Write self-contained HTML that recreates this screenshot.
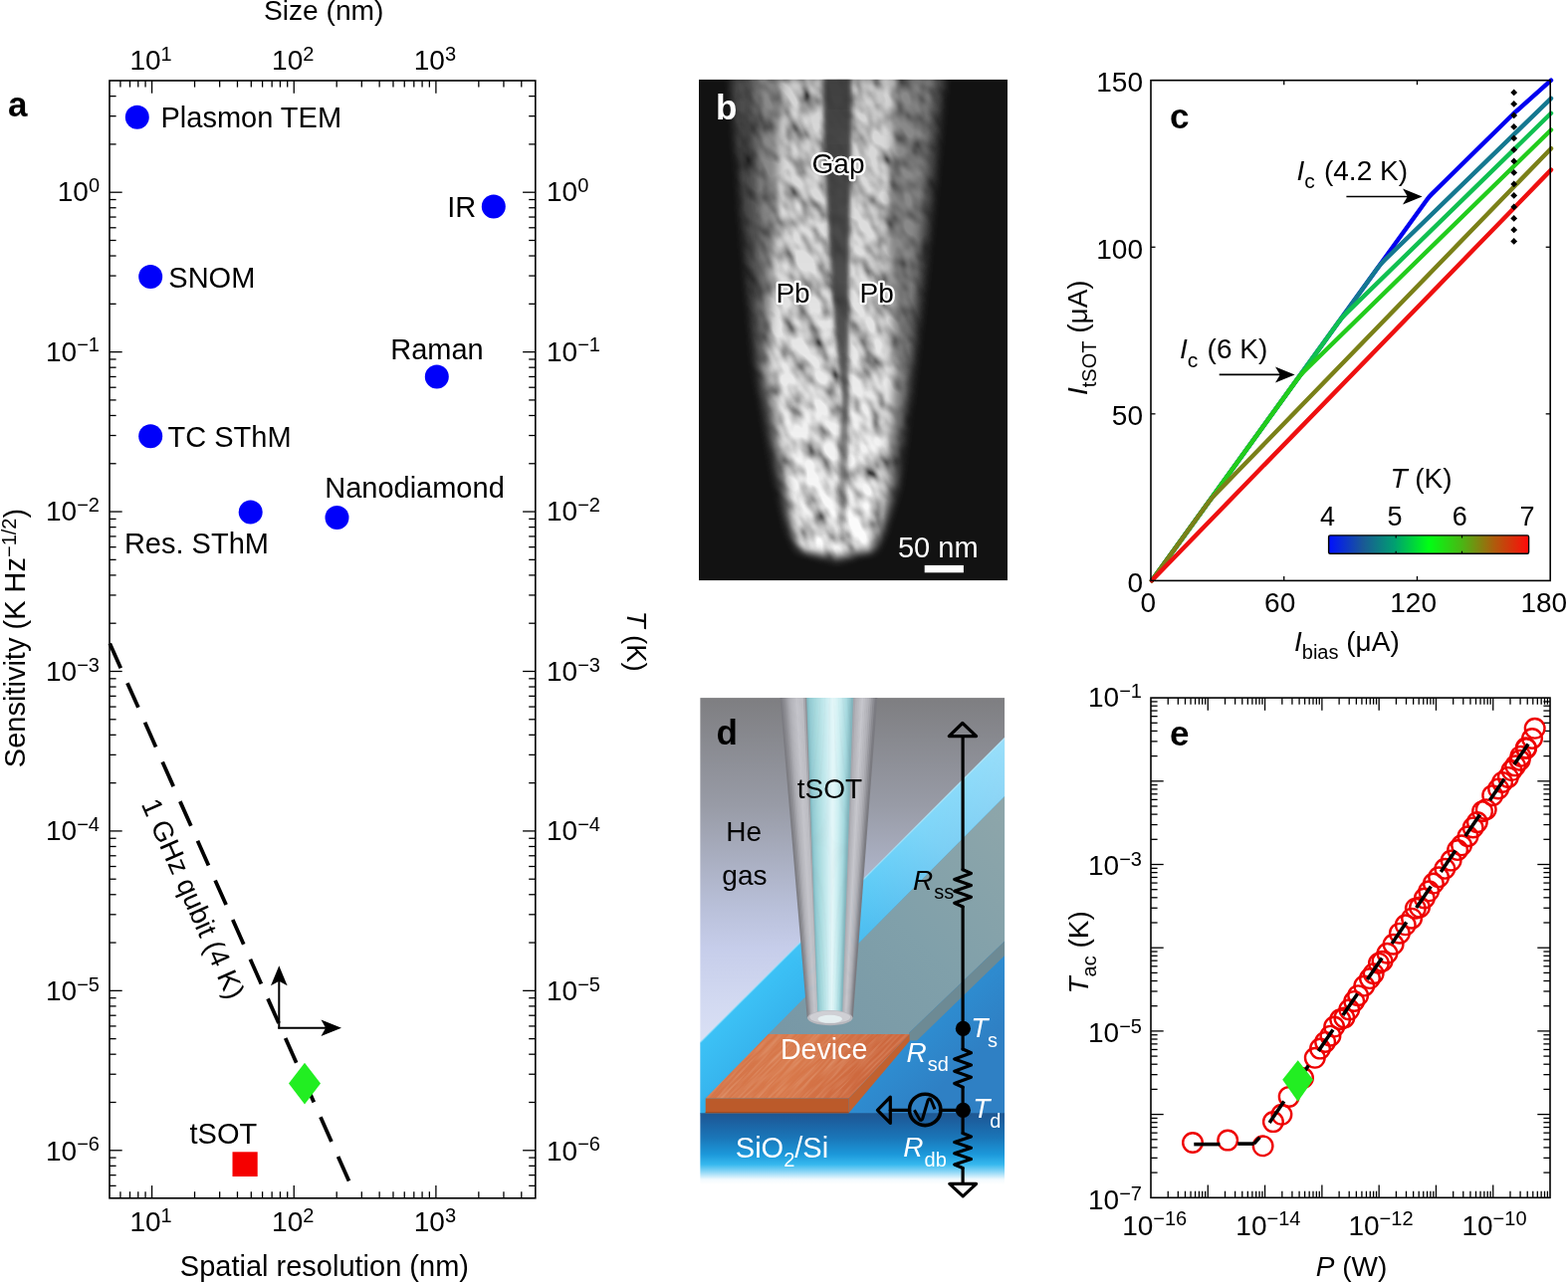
<!DOCTYPE html>
<html><head><meta charset="utf-8"><title>Figure</title>
<style>html,body{margin:0;padding:0;background:#fff;} svg{display:block;}</style></head>
<body>
<svg width="1575" height="1288" viewBox="0 0 1575 1288" font-family="'Liberation Sans', Arial, Helvetica, sans-serif">
<rect width="1575" height="1288" fill="#fff"/>
<defs>
<clipPath id="bclip"><rect x="702" y="79.8" width="310" height="503.5"/></clipPath>
<filter id="bblur5" x="-10%" y="-10%" width="120%" height="120%"><feGaussianBlur stdDeviation="4"/></filter>
<filter id="bblur2" x="-20%" y="-5%" width="140%" height="110%"><feGaussianBlur stdDeviation="2.2"/></filter>
<filter id="grain" x="557" y="-20" width="600" height="700" filterUnits="userSpaceOnUse">
 <feTurbulence type="fractalNoise" baseFrequency="0.075 0.042" numOctaves="2" seed="11" result="n"/>
 <feColorMatrix in="n" type="matrix" values="1.8 0 0 0 -0.17  1.8 0 0 0 -0.17  1.8 0 0 0 -0.17  0 0 0 0 1"/>
</filter>
<linearGradient id="bvert" gradientUnits="userSpaceOnUse" x1="0" y1="80" x2="0" y2="560"><stop offset="0" stop-color="#d0d0d0"/><stop offset="0.5" stop-color="#e2e2e2"/><stop offset="1" stop-color="#ffffff"/></linearGradient>
<linearGradient id="bgapg" gradientUnits="userSpaceOnUse" x1="0" y1="80" x2="0" y2="545"><stop offset="0" stop-color="#363636" stop-opacity="0.92"/><stop offset="0.55" stop-color="#363636" stop-opacity="0.85"/><stop offset="0.8" stop-color="#363636" stop-opacity="0.6"/><stop offset="1" stop-color="#363636" stop-opacity="0.3"/></linearGradient>
<mask id="bmask" maskUnits="userSpaceOnUse" x="702" y="79" width="310" height="505">
 <g filter="url(#bblur5)">
  <polygon points="734.0,76.0 747.0,240.0 759.0,370.0 781.0,490.0 792.0,535.0 800.0,552.0 840.0,564.0 880.0,552.0 888.0,535.0 902.0,490.0 918.0,370.0 933.0,240.0 949.0,76.0" fill="#404040"/>
  <polygon points="758.0,76.0 764.0,240.0 765.0,370.0 787.0,490.0 796.0,535.0 803.0,552.0 840.0,560.0 877.0,552.0 885.0,535.0 897.0,490.0 910.0,370.0 922.0,240.0 936.0,76.0" fill="#808080"/>
  <polygon points="786.0,76.0 780.0,240.0 772.0,370.0 793.0,490.0 800.0,535.0 806.0,552.0 840.0,556.0 874.0,552.0 880.0,535.0 888.0,490.0 897.0,370.0 890.0,240.0 900.0,76.0" fill="url(#bvert)"/>
 </g>
</mask>
</defs>
<g clip-path="url(#bclip)">
<rect x="702" y="79.8" width="310" height="503.5" fill="#121212"/>
<g mask="url(#bmask)"><g transform="rotate(-28 857 330)"><rect x="557" y="-20" width="600" height="700" filter="url(#grain)"/></g></g>
<polygon points="827.0,76.0 828.0,160.0 833.0,240.0 838.5,330.0 846.0,400.0 843.0,450.0 843.0,500.0 845.0,540.0 847.0,540.0 850.0,500.0 852.0,450.0 852.0,400.0 852.5,330.0 853.0,240.0 855.0,160.0 855.0,76.0" fill="url(#bgapg)" filter="url(#bblur2)"/>
</g>
<text x="719" y="119.5" font-size="35" font-weight="bold" fill="#fff">b</text>
<g font-size="28" fill="#000" stroke="#fff" stroke-width="4.5" stroke-linejoin="round" paint-order="stroke">
<text x="842" y="174.2" text-anchor="middle">Gap</text>
<text x="796.5" y="304.2" text-anchor="middle">Pb</text>
<text x="880.7" y="304.2" text-anchor="middle">Pb</text>
</g>
<text x="942.3" y="560.3" font-size="29" fill="#fff" text-anchor="middle">50 nm</text>
<rect x="928.7" y="567.9" width="39.2" height="7.4" fill="#fff"/>

<defs>
<clipPath id="dclip"><rect x="703.2" y="701.1" width="306" height="495"/></clipPath>
<linearGradient id="dbg" gradientUnits="userSpaceOnUse" x1="0" y1="701" x2="0" y2="1060">
<stop offset="0" stop-color="#7e7e81"/><stop offset="0.3" stop-color="#989ba6"/><stop offset="0.58" stop-color="#b8bfd8"/><stop offset="0.7" stop-color="#c6cdea"/><stop offset="0.85" stop-color="#d2d9f1"/><stop offset="1" stop-color="#dde3f6"/></linearGradient>
<linearGradient id="dsub" gradientUnits="userSpaceOnUse" x1="856" y1="894" x2="1000" y2="1038">
<stop offset="0" stop-color="#36c0f6"/><stop offset="0.25" stop-color="#30b0ec"/><stop offset="0.5" stop-color="#2c9edf"/><stop offset="0.75" stop-color="#2e8cd0"/><stop offset="1" stop-color="#2f80c4"/></linearGradient>
<linearGradient id="dsub2" gradientUnits="userSpaceOnUse" x1="1009" y1="741" x2="790" y2="960">
<stop offset="0" stop-color="#ffffff" stop-opacity="0.5"/><stop offset="0.4" stop-color="#ffffff" stop-opacity="0.36"/><stop offset="0.75" stop-color="#ffffff" stop-opacity="0.15"/><stop offset="1" stop-color="#ffffff" stop-opacity="0.03"/></linearGradient>
<linearGradient id="dfront" gradientUnits="userSpaceOnUse" x1="0" y1="1118" x2="0" y2="1190">
<stop offset="0" stop-color="#1f5690"/><stop offset="0.12" stop-color="#1c60a0"/><stop offset="0.35" stop-color="#1a76b8"/><stop offset="0.58" stop-color="#1c98da"/><stop offset="0.72" stop-color="#36b8ee"/><stop offset="0.82" stop-color="#8ad6f6"/><stop offset="0.93" stop-color="#f2fafe"/><stop offset="1" stop-color="#ffffff"/></linearGradient>
<linearGradient id="dstrip" gradientUnits="userSpaceOnUse" x1="1009" y1="800" x2="780" y2="1030">
<stop offset="0" stop-color="#8ea6aa"/><stop offset="0.5" stop-color="#80a0aa"/><stop offset="1" stop-color="#7898a6"/></linearGradient>
<linearGradient id="ddev" gradientUnits="userSpaceOnUse" x1="740" y1="1040" x2="860" y2="1104">
<stop offset="0" stop-color="#d47448"/><stop offset="0.5" stop-color="#d8784a"/><stop offset="1" stop-color="#cc663c"/></linearGradient>
<filter id="dnoise" x="701" y="961" width="220" height="220" filterUnits="userSpaceOnUse">
<feTurbulence type="fractalNoise" baseFrequency="0.5 0.03" numOctaves="2" seed="3" result="n"/>
<feColorMatrix in="n" type="matrix" values="0 0 0 0 1  0 0 0 0 0.85  0 0 0 0 0.7  1.2 0 0 0 -0.45"/>
<feComposite in2="SourceGraphic" operator="in"/></filter>
</defs>
<g clip-path="url(#dclip)">
<rect x="703.2" y="701.1" width="306" height="420" fill="url(#dbg)"/>
<polygon points="703.2,1047.0 1009.2,741.0 1009.2,1119.0 703.2,1119.0" fill="url(#dsub)"/>
<polygon points="1009.2,741 1009.2,800 771.7,1039 703.2,1107 703.2,1047" fill="url(#dsub2)"/>
<line x1="703.2" y1="1047.5" x2="1009.2" y2="741.5" stroke="#d0f2fc" stroke-width="1.4" opacity="0.45"/>
<polygon points="771.7,1039.0 1009.2,800.0 1009.2,945.5 913.3,1037.5 913.3,1039.0" fill="url(#dstrip)"/>
<polygon points="913.3,1037.5 1009.2,945.5 1009.2,960.0 921.0,1045.5 913.3,1045.5" fill="#6d8a94"/>
<rect x="703.2" y="1118.3" width="306" height="80" fill="url(#dfront)"/>
<polygon points="771.7,1039.0 913.6,1039.0 852.5,1103.5 708.7,1103.5" fill="url(#ddev)"/>
<clipPath id="devclip"><polygon points="771.7,1039.0 913.6,1039.0 852.5,1103.5 708.7,1103.5"/></clipPath>
<g clip-path="url(#devclip)" opacity="0.4"><g transform="rotate(45 811 1071)"><rect x="701" y="961" width="220" height="220" filter="url(#dnoise)"/></g></g>
<polygon points="913.6,1039.0 913.6,1046.0 852.5,1118.3 852.5,1103.5" fill="#c1612f"/>
<polygon points="708.7,1103.5 852.5,1103.5 852.5,1118.3 708.7,1118.3" fill="#bb5a2a"/>
<line x1="708.7" y1="1117.6" x2="852.5" y2="1117.6" stroke="#a04a20" stroke-width="1.2"/>
<polygon points="783.50,701.1 786.04,701.1 812.21,1022.5 810.70,1022.5" fill="#7c7c82"/>
<polygon points="785.44,701.1 787.99,701.1 813.12,1022.5 811.61,1022.5" fill="#86868c"/>
<polygon points="787.39,701.1 789.93,701.1 814.03,1022.5 812.52,1022.5" fill="#909096"/>
<polygon points="789.33,701.1 791.88,701.1 814.94,1022.5 813.43,1022.5" fill="#9d9da3"/>
<polygon points="791.28,701.1 793.82,701.1 815.85,1022.5 814.34,1022.5" fill="#aaaab0"/>
<polygon points="793.22,701.1 795.76,701.1 816.76,1022.5 815.25,1022.5" fill="#b3b3b9"/>
<polygon points="795.16,701.1 797.71,701.1 817.67,1022.5 816.16,1022.5" fill="#b9b9bf"/>
<polygon points="797.11,701.1 799.65,701.1 818.58,1022.5 817.07,1022.5" fill="#bebec4"/>
<polygon points="799.05,701.1 801.60,701.1 819.49,1022.5 817.98,1022.5" fill="#c4c4ca"/>
<polygon points="801.00,701.1 803.54,701.1 820.40,1022.5 818.89,1022.5" fill="#c2c2c8"/>
<polygon points="802.94,701.1 805.48,701.1 821.31,1022.5 819.80,1022.5" fill="#bfbfc5"/>
<polygon points="804.88,701.1 807.43,701.1 822.22,1022.5 820.71,1022.5" fill="#bdbdc3"/>
<polygon points="806.83,701.1 809.37,701.1 823.13,1022.5 821.62,1022.5" fill="#a9a9af"/>
<polygon points="808.77,701.1 811.32,701.1 824.04,1022.5 822.53,1022.5" fill="#909096"/>
<polygon points="810.72,701.1 813.26,701.1 824.95,1022.5 823.44,1022.5" fill="#919197"/>
<polygon points="812.66,701.1 815.20,701.1 825.86,1022.5 824.35,1022.5" fill="#939399"/>
<polygon points="814.60,701.1 817.15,701.1 826.77,1022.5 825.26,1022.5" fill="#94949a"/>
<polygon points="816.55,701.1 819.09,701.1 827.68,1022.5 826.17,1022.5" fill="#96969c"/>
<polygon points="818.49,701.1 821.04,701.1 828.59,1022.5 827.08,1022.5" fill="#97979d"/>
<polygon points="820.44,701.1 822.98,701.1 829.50,1022.5 827.99,1022.5" fill="#98989e"/>
<polygon points="822.38,701.1 824.92,701.1 830.41,1022.5 828.90,1022.5" fill="#9a9aa0"/>
<polygon points="824.32,701.1 826.87,701.1 831.32,1022.5 829.81,1022.5" fill="#9b9ba1"/>
<polygon points="826.27,701.1 828.81,701.1 832.23,1022.5 830.72,1022.5" fill="#9d9da3"/>
<polygon points="828.21,701.1 830.76,701.1 833.14,1022.5 831.63,1022.5" fill="#9e9ea4"/>
<polygon points="830.16,701.1 832.70,701.1 834.05,1022.5 832.54,1022.5" fill="#9f9fa5"/>
<polygon points="832.10,701.1 834.64,701.1 834.96,1022.5 833.45,1022.5" fill="#9f9fa6"/>
<polygon points="834.04,701.1 836.59,701.1 835.87,1022.5 834.36,1022.5" fill="#9e9ea4"/>
<polygon points="835.99,701.1 838.53,701.1 836.78,1022.5 835.27,1022.5" fill="#9d9da4"/>
<polygon points="837.93,701.1 840.48,701.1 837.69,1022.5 836.18,1022.5" fill="#9c9ca2"/>
<polygon points="839.88,701.1 842.42,701.1 838.60,1022.5 837.09,1022.5" fill="#9b9ba2"/>
<polygon points="841.82,701.1 844.36,701.1 839.51,1022.5 838.00,1022.5" fill="#9a9aa0"/>
<polygon points="843.76,701.1 846.31,701.1 840.42,1022.5 838.91,1022.5" fill="#9898a0"/>
<polygon points="845.71,701.1 848.25,701.1 841.33,1022.5 839.82,1022.5" fill="#97979e"/>
<polygon points="847.65,701.1 850.20,701.1 842.24,1022.5 840.73,1022.5" fill="#96969e"/>
<polygon points="849.60,701.1 852.14,701.1 843.15,1022.5 841.64,1022.5" fill="#95959c"/>
<polygon points="851.54,701.1 854.08,701.1 844.06,1022.5 842.55,1022.5" fill="#94949c"/>
<polygon points="853.48,701.1 856.03,701.1 844.97,1022.5 843.46,1022.5" fill="#93939a"/>
<polygon points="855.43,701.1 857.97,701.1 845.88,1022.5 844.37,1022.5" fill="#9a9aa1"/>
<polygon points="857.37,701.1 859.92,701.1 846.79,1022.5 845.28,1022.5" fill="#a8a8af"/>
<polygon points="859.32,701.1 861.86,701.1 847.70,1022.5 846.19,1022.5" fill="#b3b3b9"/>
<polygon points="861.26,701.1 863.80,701.1 848.61,1022.5 847.10,1022.5" fill="#b9b9bf"/>
<polygon points="863.20,701.1 865.75,701.1 849.52,1022.5 848.01,1022.5" fill="#c0c0c6"/>
<polygon points="865.15,701.1 867.69,701.1 850.43,1022.5 848.92,1022.5" fill="#c6c6cc"/>
<polygon points="867.09,701.1 869.64,701.1 851.34,1022.5 849.83,1022.5" fill="#c0c0c6"/>
<polygon points="869.04,701.1 871.58,701.1 852.25,1022.5 850.74,1022.5" fill="#b9b9bf"/>
<polygon points="870.98,701.1 873.52,701.1 853.16,1022.5 851.65,1022.5" fill="#b3b3b9"/>
<polygon points="872.92,701.1 875.47,701.1 854.07,1022.5 852.56,1022.5" fill="#a8a8ae"/>
<polygon points="874.87,701.1 877.41,701.1 854.98,1022.5 853.47,1022.5" fill="#99999f"/>
<polygon points="876.81,701.1 879.36,701.1 855.89,1022.5 854.38,1022.5" fill="#8a8a90"/>
<polygon points="878.76,701.1 881.30,701.1 856.80,1022.5 855.29,1022.5" fill="#7b7b81"/>
<polygon points="810.20,701.1 812.08,701.1 822.67,1021.5 821.40,1021.5" fill="#81b9c1"/>
<polygon points="811.48,701.1 813.37,701.1 823.33,1021.5 822.07,1021.5" fill="#8bc3cb"/>
<polygon points="812.77,701.1 814.65,701.1 824.00,1021.5 822.73,1021.5" fill="#93cbd3"/>
<polygon points="814.05,701.1 815.93,701.1 824.67,1021.5 823.40,1021.5" fill="#98ced5"/>
<polygon points="815.33,701.1 817.22,701.1 825.33,1021.5 824.07,1021.5" fill="#9cd1d8"/>
<polygon points="816.62,701.1 818.50,701.1 826.00,1021.5 824.73,1021.5" fill="#a1d5da"/>
<polygon points="817.90,701.1 819.78,701.1 826.67,1021.5 825.40,1021.5" fill="#a5d8dc"/>
<polygon points="819.18,701.1 821.07,701.1 827.33,1021.5 826.07,1021.5" fill="#a9dbdf"/>
<polygon points="820.47,701.1 822.35,701.1 828.00,1021.5 826.73,1021.5" fill="#addde1"/>
<polygon points="821.75,701.1 823.63,701.1 828.67,1021.5 827.40,1021.5" fill="#b2dfe3"/>
<polygon points="823.03,701.1 824.92,701.1 829.33,1021.5 828.07,1021.5" fill="#b6e1e5"/>
<polygon points="824.32,701.1 826.20,701.1 830.00,1021.5 828.73,1021.5" fill="#bae4e8"/>
<polygon points="825.60,701.1 827.48,701.1 830.67,1021.5 829.40,1021.5" fill="#bee6ea"/>
<polygon points="826.88,701.1 828.77,701.1 831.33,1021.5 830.07,1021.5" fill="#c2e8ec"/>
<polygon points="828.17,701.1 830.05,701.1 832.00,1021.5 830.73,1021.5" fill="#c6eaee"/>
<polygon points="829.45,701.1 831.33,701.1 832.67,1021.5 831.40,1021.5" fill="#cbecf0"/>
<polygon points="830.73,701.1 832.62,701.1 833.33,1021.5 832.07,1021.5" fill="#d0eef2"/>
<polygon points="832.02,701.1 833.90,701.1 834.00,1021.5 832.73,1021.5" fill="#d4f0f3"/>
<polygon points="833.30,701.1 835.18,701.1 834.67,1021.5 833.40,1021.5" fill="#d9f2f5"/>
<polygon points="834.58,701.1 836.47,701.1 835.33,1021.5 834.07,1021.5" fill="#def4f7"/>
<polygon points="835.87,701.1 837.75,701.1 836.00,1021.5 834.73,1021.5" fill="#e2f6f8"/>
<polygon points="837.15,701.1 839.03,701.1 836.67,1021.5 835.40,1021.5" fill="#e1f6f8"/>
<polygon points="838.43,701.1 840.32,701.1 837.33,1021.5 836.07,1021.5" fill="#ddf4f6"/>
<polygon points="839.72,701.1 841.60,701.1 838.00,1021.5 836.73,1021.5" fill="#d8f2f5"/>
<polygon points="841.00,701.1 842.88,701.1 838.67,1021.5 837.40,1021.5" fill="#d3f1f3"/>
<polygon points="842.28,701.1 844.17,701.1 839.33,1021.5 838.07,1021.5" fill="#cfeff2"/>
<polygon points="843.57,701.1 845.45,701.1 840.00,1021.5 838.73,1021.5" fill="#c9ecef"/>
<polygon points="844.85,701.1 846.73,701.1 840.67,1021.5 839.40,1021.5" fill="#c2e8ec"/>
<polygon points="846.13,701.1 848.02,701.1 841.33,1021.5 840.07,1021.5" fill="#bce4e8"/>
<polygon points="847.42,701.1 849.30,701.1 842.00,1021.5 840.73,1021.5" fill="#b5e0e5"/>
<polygon points="848.70,701.1 850.58,701.1 842.67,1021.5 841.40,1021.5" fill="#aedde2"/>
<polygon points="849.98,701.1 851.87,701.1 843.33,1021.5 842.07,1021.5" fill="#a7d9df"/>
<polygon points="851.27,701.1 853.15,701.1 844.00,1021.5 842.73,1021.5" fill="#9ed1d7"/>
<polygon points="852.55,701.1 854.43,701.1 844.67,1021.5 843.40,1021.5" fill="#95c8cf"/>
<polygon points="853.83,701.1 855.72,701.1 845.33,1021.5 844.07,1021.5" fill="#8cbfc7"/>
<polygon points="855.12,701.1 857.00,701.1 846.00,1021.5 844.73,1021.5" fill="#83b6be"/>
<ellipse cx="833.75" cy="1022.6" rx="22.75" ry="7.6" fill="#b8b8be"/>
<ellipse cx="833.75" cy="1021.8" rx="20.5" ry="6.2" fill="#cfcfd4"/>
<ellipse cx="833.75" cy="1023.8" rx="12.2" ry="4.0" fill="#e4eef0"/>
</g>
<g stroke="#000" stroke-width="3.2" fill="none" stroke-linejoin="round" stroke-linecap="round">
<line x1="967.1" y1="740" x2="967.1" y2="873.7"/>
<path d="M967.1,873.7 L975.5,877.4 L958.7,883.4 L975.5,889.4 L958.7,895.3 L975.5,901.3 L958.7,907.3 L967.1,911.0"/>
<line x1="967.1" y1="911" x2="967.1" y2="1054"/>
<path d="M967.1,1054.0 L975.5,1057.8 L958.7,1064.0 L975.5,1070.1 L958.7,1076.2 L975.5,1082.3 L958.7,1088.5 L967.1,1092.3"/>
<line x1="967.1" y1="1092.3" x2="967.1" y2="1138.5"/>
<path d="M967.1,1138.5 L975.5,1142.0 L958.7,1147.6 L975.5,1153.2 L958.7,1158.8 L975.5,1164.4 L958.7,1170.0 L967.1,1173.5"/>
<line x1="967.1" y1="1173.5" x2="967.1" y2="1189"/>
<polygon points="966.8,726.5 953.3,739.6 980.6,739.6"/>
<polygon points="953.8,1189.3 980.6,1189.3 967.2,1201.8"/>
<polygon points="881.4,1115.4 894.3,1102.2 894.3,1128.4"/>
<line x1="894.3" y1="1115.4" x2="913.6" y2="1115.4"/>
<line x1="944.4" y1="1115.4" x2="967.1" y2="1115.4"/>
<circle cx="929.2" cy="1114.9" r="15.7" stroke-width="3.6"/>
<path d="M918.4,1115.2 L923.2,1123.8 C924.5,1126.3 926,1126 926.8,1123.5 L931.8,1106.5 C932.8,1103.2 934.6,1103.2 935.6,1106 L939,1114.4" stroke-width="3.1" stroke-linecap="butt"/>
</g>
<circle cx="967.4" cy="1033.4" r="7.6" fill="#000"/>
<circle cx="967.4" cy="1115.4" r="7.6" fill="#000"/>
<text x="719.5" y="747.9" font-size="35" font-weight="bold">d</text>
<text x="833.5" y="801.7" font-size="28" text-anchor="middle">tSOT</text>
<text x="747.1" y="844.9" font-size="28" text-anchor="middle">He</text>
<text x="747.9" y="888.9" font-size="28" text-anchor="middle">gas</text>
<text x="917" y="893.8" font-size="28"><tspan font-style="italic">R</tspan><tspan font-size="20" dx="1" dy="9.6">ss</tspan></text>
<g fill="#fff">
<text x="827.6" y="1064.3" font-size="28.6" text-anchor="middle">Device</text>
<text x="738.8" y="1162.7" font-size="29">SiO<tspan font-size="20" dy="9">2</tspan><tspan dy="-9">/Si</tspan></text>
<text x="975.3" y="1042.2" font-size="28"><tspan font-style="italic">T</tspan><tspan font-size="20" dx="-0.5" dy="10">s</tspan></text>
<text x="910.5" y="1066.8" font-size="28"><tspan font-style="italic">R</tspan><tspan font-size="20" dx="1" dy="9.6">sd</tspan></text>
<text x="977.2" y="1123.3" font-size="28"><tspan font-style="italic">T</tspan><tspan font-size="20" dx="0" dy="9.6">d</tspan></text>
<text x="907.3" y="1162.3" font-size="28"><tspan font-style="italic">R</tspan><tspan font-size="20" dx="1" dy="9.6">db</tspan></text>
</g>
<line x1="120.95" y1="81" x2="120.95" y2="87.6" stroke="#000" stroke-width="1.3" />
<line x1="120.95" y1="1203.8" x2="120.95" y2="1197.2" stroke="#000" stroke-width="1.3" />
<line x1="130.5" y1="81" x2="130.5" y2="87.6" stroke="#000" stroke-width="1.3" />
<line x1="130.5" y1="1203.8" x2="130.5" y2="1197.2" stroke="#000" stroke-width="1.3" />
<line x1="138.78" y1="81" x2="138.78" y2="87.6" stroke="#000" stroke-width="1.3" />
<line x1="138.78" y1="1203.8" x2="138.78" y2="1197.2" stroke="#000" stroke-width="1.3" />
<line x1="146.07" y1="81" x2="146.07" y2="87.6" stroke="#000" stroke-width="1.3" />
<line x1="146.07" y1="1203.8" x2="146.07" y2="1197.2" stroke="#000" stroke-width="1.3" />
<line x1="152.6" y1="81" x2="152.6" y2="93.7" stroke="#000" stroke-width="1.3" />
<line x1="152.6" y1="1203.8" x2="152.6" y2="1191.1" stroke="#000" stroke-width="1.3" />
<line x1="195.54" y1="81" x2="195.54" y2="87.6" stroke="#000" stroke-width="1.3" />
<line x1="195.54" y1="1203.8" x2="195.54" y2="1197.2" stroke="#000" stroke-width="1.3" />
<line x1="220.66" y1="81" x2="220.66" y2="87.6" stroke="#000" stroke-width="1.3" />
<line x1="220.66" y1="1203.8" x2="220.66" y2="1197.2" stroke="#000" stroke-width="1.3" />
<line x1="238.48" y1="81" x2="238.48" y2="87.6" stroke="#000" stroke-width="1.3" />
<line x1="238.48" y1="1203.8" x2="238.48" y2="1197.2" stroke="#000" stroke-width="1.3" />
<line x1="252.31" y1="81" x2="252.31" y2="87.6" stroke="#000" stroke-width="1.3" />
<line x1="252.31" y1="1203.8" x2="252.31" y2="1197.2" stroke="#000" stroke-width="1.3" />
<line x1="263.6" y1="81" x2="263.6" y2="87.6" stroke="#000" stroke-width="1.3" />
<line x1="263.6" y1="1203.8" x2="263.6" y2="1197.2" stroke="#000" stroke-width="1.3" />
<line x1="273.15" y1="81" x2="273.15" y2="87.6" stroke="#000" stroke-width="1.3" />
<line x1="273.15" y1="1203.8" x2="273.15" y2="1197.2" stroke="#000" stroke-width="1.3" />
<line x1="281.43" y1="81" x2="281.43" y2="87.6" stroke="#000" stroke-width="1.3" />
<line x1="281.43" y1="1203.8" x2="281.43" y2="1197.2" stroke="#000" stroke-width="1.3" />
<line x1="288.72" y1="81" x2="288.72" y2="87.6" stroke="#000" stroke-width="1.3" />
<line x1="288.72" y1="1203.8" x2="288.72" y2="1197.2" stroke="#000" stroke-width="1.3" />
<line x1="295.25" y1="81" x2="295.25" y2="93.7" stroke="#000" stroke-width="1.3" />
<line x1="295.25" y1="1203.8" x2="295.25" y2="1191.1" stroke="#000" stroke-width="1.3" />
<line x1="338.19" y1="81" x2="338.19" y2="87.6" stroke="#000" stroke-width="1.3" />
<line x1="338.19" y1="1203.8" x2="338.19" y2="1197.2" stroke="#000" stroke-width="1.3" />
<line x1="363.31" y1="81" x2="363.31" y2="87.6" stroke="#000" stroke-width="1.3" />
<line x1="363.31" y1="1203.8" x2="363.31" y2="1197.2" stroke="#000" stroke-width="1.3" />
<line x1="381.13" y1="81" x2="381.13" y2="87.6" stroke="#000" stroke-width="1.3" />
<line x1="381.13" y1="1203.8" x2="381.13" y2="1197.2" stroke="#000" stroke-width="1.3" />
<line x1="394.96" y1="81" x2="394.96" y2="87.6" stroke="#000" stroke-width="1.3" />
<line x1="394.96" y1="1203.8" x2="394.96" y2="1197.2" stroke="#000" stroke-width="1.3" />
<line x1="406.25" y1="81" x2="406.25" y2="87.6" stroke="#000" stroke-width="1.3" />
<line x1="406.25" y1="1203.8" x2="406.25" y2="1197.2" stroke="#000" stroke-width="1.3" />
<line x1="415.8" y1="81" x2="415.8" y2="87.6" stroke="#000" stroke-width="1.3" />
<line x1="415.8" y1="1203.8" x2="415.8" y2="1197.2" stroke="#000" stroke-width="1.3" />
<line x1="424.08" y1="81" x2="424.08" y2="87.6" stroke="#000" stroke-width="1.3" />
<line x1="424.08" y1="1203.8" x2="424.08" y2="1197.2" stroke="#000" stroke-width="1.3" />
<line x1="431.37" y1="81" x2="431.37" y2="87.6" stroke="#000" stroke-width="1.3" />
<line x1="431.37" y1="1203.8" x2="431.37" y2="1197.2" stroke="#000" stroke-width="1.3" />
<line x1="437.9" y1="81" x2="437.9" y2="93.7" stroke="#000" stroke-width="1.3" />
<line x1="437.9" y1="1203.8" x2="437.9" y2="1191.1" stroke="#000" stroke-width="1.3" />
<line x1="480.84" y1="81" x2="480.84" y2="87.6" stroke="#000" stroke-width="1.3" />
<line x1="480.84" y1="1203.8" x2="480.84" y2="1197.2" stroke="#000" stroke-width="1.3" />
<line x1="505.96" y1="81" x2="505.96" y2="87.6" stroke="#000" stroke-width="1.3" />
<line x1="505.96" y1="1203.8" x2="505.96" y2="1197.2" stroke="#000" stroke-width="1.3" />
<line x1="523.78" y1="81" x2="523.78" y2="87.6" stroke="#000" stroke-width="1.3" />
<line x1="523.78" y1="1203.8" x2="523.78" y2="1197.2" stroke="#000" stroke-width="1.3" />
<line x1="110" y1="1191.37" x2="116.6" y2="1191.37" stroke="#000" stroke-width="1.3" />
<line x1="537.8" y1="1191.37" x2="531.2" y2="1191.37" stroke="#000" stroke-width="1.3" />
<line x1="110" y1="1180.63" x2="116.6" y2="1180.63" stroke="#000" stroke-width="1.3" />
<line x1="537.8" y1="1180.63" x2="531.2" y2="1180.63" stroke="#000" stroke-width="1.3" />
<line x1="110" y1="1171.33" x2="116.6" y2="1171.33" stroke="#000" stroke-width="1.3" />
<line x1="537.8" y1="1171.33" x2="531.2" y2="1171.33" stroke="#000" stroke-width="1.3" />
<line x1="110" y1="1163.12" x2="116.6" y2="1163.12" stroke="#000" stroke-width="1.3" />
<line x1="537.8" y1="1163.12" x2="531.2" y2="1163.12" stroke="#000" stroke-width="1.3" />
<line x1="110" y1="1155.78" x2="122.7" y2="1155.78" stroke="#000" stroke-width="1.3" />
<line x1="537.8" y1="1155.78" x2="525.1" y2="1155.78" stroke="#000" stroke-width="1.3" />
<line x1="110" y1="1107.49" x2="116.6" y2="1107.49" stroke="#000" stroke-width="1.3" />
<line x1="537.8" y1="1107.49" x2="531.2" y2="1107.49" stroke="#000" stroke-width="1.3" />
<line x1="110" y1="1079.24" x2="116.6" y2="1079.24" stroke="#000" stroke-width="1.3" />
<line x1="537.8" y1="1079.24" x2="531.2" y2="1079.24" stroke="#000" stroke-width="1.3" />
<line x1="110" y1="1059.19" x2="116.6" y2="1059.19" stroke="#000" stroke-width="1.3" />
<line x1="537.8" y1="1059.19" x2="531.2" y2="1059.19" stroke="#000" stroke-width="1.3" />
<line x1="110" y1="1043.64" x2="116.6" y2="1043.64" stroke="#000" stroke-width="1.3" />
<line x1="537.8" y1="1043.64" x2="531.2" y2="1043.64" stroke="#000" stroke-width="1.3" />
<line x1="110" y1="1030.94" x2="116.6" y2="1030.94" stroke="#000" stroke-width="1.3" />
<line x1="537.8" y1="1030.94" x2="531.2" y2="1030.94" stroke="#000" stroke-width="1.3" />
<line x1="110" y1="1020.2" x2="116.6" y2="1020.2" stroke="#000" stroke-width="1.3" />
<line x1="537.8" y1="1020.2" x2="531.2" y2="1020.2" stroke="#000" stroke-width="1.3" />
<line x1="110" y1="1010.9" x2="116.6" y2="1010.9" stroke="#000" stroke-width="1.3" />
<line x1="537.8" y1="1010.9" x2="531.2" y2="1010.9" stroke="#000" stroke-width="1.3" />
<line x1="110" y1="1002.69" x2="116.6" y2="1002.69" stroke="#000" stroke-width="1.3" />
<line x1="537.8" y1="1002.69" x2="531.2" y2="1002.69" stroke="#000" stroke-width="1.3" />
<line x1="110" y1="995.35" x2="122.7" y2="995.35" stroke="#000" stroke-width="1.3" />
<line x1="537.8" y1="995.35" x2="525.1" y2="995.35" stroke="#000" stroke-width="1.3" />
<line x1="110" y1="947.06" x2="116.6" y2="947.06" stroke="#000" stroke-width="1.3" />
<line x1="537.8" y1="947.06" x2="531.2" y2="947.06" stroke="#000" stroke-width="1.3" />
<line x1="110" y1="918.81" x2="116.6" y2="918.81" stroke="#000" stroke-width="1.3" />
<line x1="537.8" y1="918.81" x2="531.2" y2="918.81" stroke="#000" stroke-width="1.3" />
<line x1="110" y1="898.76" x2="116.6" y2="898.76" stroke="#000" stroke-width="1.3" />
<line x1="537.8" y1="898.76" x2="531.2" y2="898.76" stroke="#000" stroke-width="1.3" />
<line x1="110" y1="883.21" x2="116.6" y2="883.21" stroke="#000" stroke-width="1.3" />
<line x1="537.8" y1="883.21" x2="531.2" y2="883.21" stroke="#000" stroke-width="1.3" />
<line x1="110" y1="870.51" x2="116.6" y2="870.51" stroke="#000" stroke-width="1.3" />
<line x1="537.8" y1="870.51" x2="531.2" y2="870.51" stroke="#000" stroke-width="1.3" />
<line x1="110" y1="859.77" x2="116.6" y2="859.77" stroke="#000" stroke-width="1.3" />
<line x1="537.8" y1="859.77" x2="531.2" y2="859.77" stroke="#000" stroke-width="1.3" />
<line x1="110" y1="850.47" x2="116.6" y2="850.47" stroke="#000" stroke-width="1.3" />
<line x1="537.8" y1="850.47" x2="531.2" y2="850.47" stroke="#000" stroke-width="1.3" />
<line x1="110" y1="842.26" x2="116.6" y2="842.26" stroke="#000" stroke-width="1.3" />
<line x1="537.8" y1="842.26" x2="531.2" y2="842.26" stroke="#000" stroke-width="1.3" />
<line x1="110" y1="834.92" x2="122.7" y2="834.92" stroke="#000" stroke-width="1.3" />
<line x1="537.8" y1="834.92" x2="525.1" y2="834.92" stroke="#000" stroke-width="1.3" />
<line x1="110" y1="786.63" x2="116.6" y2="786.63" stroke="#000" stroke-width="1.3" />
<line x1="537.8" y1="786.63" x2="531.2" y2="786.63" stroke="#000" stroke-width="1.3" />
<line x1="110" y1="758.38" x2="116.6" y2="758.38" stroke="#000" stroke-width="1.3" />
<line x1="537.8" y1="758.38" x2="531.2" y2="758.38" stroke="#000" stroke-width="1.3" />
<line x1="110" y1="738.33" x2="116.6" y2="738.33" stroke="#000" stroke-width="1.3" />
<line x1="537.8" y1="738.33" x2="531.2" y2="738.33" stroke="#000" stroke-width="1.3" />
<line x1="110" y1="722.78" x2="116.6" y2="722.78" stroke="#000" stroke-width="1.3" />
<line x1="537.8" y1="722.78" x2="531.2" y2="722.78" stroke="#000" stroke-width="1.3" />
<line x1="110" y1="710.08" x2="116.6" y2="710.08" stroke="#000" stroke-width="1.3" />
<line x1="537.8" y1="710.08" x2="531.2" y2="710.08" stroke="#000" stroke-width="1.3" />
<line x1="110" y1="699.34" x2="116.6" y2="699.34" stroke="#000" stroke-width="1.3" />
<line x1="537.8" y1="699.34" x2="531.2" y2="699.34" stroke="#000" stroke-width="1.3" />
<line x1="110" y1="690.04" x2="116.6" y2="690.04" stroke="#000" stroke-width="1.3" />
<line x1="537.8" y1="690.04" x2="531.2" y2="690.04" stroke="#000" stroke-width="1.3" />
<line x1="110" y1="681.83" x2="116.6" y2="681.83" stroke="#000" stroke-width="1.3" />
<line x1="537.8" y1="681.83" x2="531.2" y2="681.83" stroke="#000" stroke-width="1.3" />
<line x1="110" y1="674.49" x2="122.7" y2="674.49" stroke="#000" stroke-width="1.3" />
<line x1="537.8" y1="674.49" x2="525.1" y2="674.49" stroke="#000" stroke-width="1.3" />
<line x1="110" y1="626.2" x2="116.6" y2="626.2" stroke="#000" stroke-width="1.3" />
<line x1="537.8" y1="626.2" x2="531.2" y2="626.2" stroke="#000" stroke-width="1.3" />
<line x1="110" y1="597.95" x2="116.6" y2="597.95" stroke="#000" stroke-width="1.3" />
<line x1="537.8" y1="597.95" x2="531.2" y2="597.95" stroke="#000" stroke-width="1.3" />
<line x1="110" y1="577.9" x2="116.6" y2="577.9" stroke="#000" stroke-width="1.3" />
<line x1="537.8" y1="577.9" x2="531.2" y2="577.9" stroke="#000" stroke-width="1.3" />
<line x1="110" y1="562.35" x2="116.6" y2="562.35" stroke="#000" stroke-width="1.3" />
<line x1="537.8" y1="562.35" x2="531.2" y2="562.35" stroke="#000" stroke-width="1.3" />
<line x1="110" y1="549.65" x2="116.6" y2="549.65" stroke="#000" stroke-width="1.3" />
<line x1="537.8" y1="549.65" x2="531.2" y2="549.65" stroke="#000" stroke-width="1.3" />
<line x1="110" y1="538.91" x2="116.6" y2="538.91" stroke="#000" stroke-width="1.3" />
<line x1="537.8" y1="538.91" x2="531.2" y2="538.91" stroke="#000" stroke-width="1.3" />
<line x1="110" y1="529.61" x2="116.6" y2="529.61" stroke="#000" stroke-width="1.3" />
<line x1="537.8" y1="529.61" x2="531.2" y2="529.61" stroke="#000" stroke-width="1.3" />
<line x1="110" y1="521.4" x2="116.6" y2="521.4" stroke="#000" stroke-width="1.3" />
<line x1="537.8" y1="521.4" x2="531.2" y2="521.4" stroke="#000" stroke-width="1.3" />
<line x1="110" y1="514.06" x2="122.7" y2="514.06" stroke="#000" stroke-width="1.3" />
<line x1="537.8" y1="514.06" x2="525.1" y2="514.06" stroke="#000" stroke-width="1.3" />
<line x1="110" y1="465.77" x2="116.6" y2="465.77" stroke="#000" stroke-width="1.3" />
<line x1="537.8" y1="465.77" x2="531.2" y2="465.77" stroke="#000" stroke-width="1.3" />
<line x1="110" y1="437.52" x2="116.6" y2="437.52" stroke="#000" stroke-width="1.3" />
<line x1="537.8" y1="437.52" x2="531.2" y2="437.52" stroke="#000" stroke-width="1.3" />
<line x1="110" y1="417.47" x2="116.6" y2="417.47" stroke="#000" stroke-width="1.3" />
<line x1="537.8" y1="417.47" x2="531.2" y2="417.47" stroke="#000" stroke-width="1.3" />
<line x1="110" y1="401.92" x2="116.6" y2="401.92" stroke="#000" stroke-width="1.3" />
<line x1="537.8" y1="401.92" x2="531.2" y2="401.92" stroke="#000" stroke-width="1.3" />
<line x1="110" y1="389.22" x2="116.6" y2="389.22" stroke="#000" stroke-width="1.3" />
<line x1="537.8" y1="389.22" x2="531.2" y2="389.22" stroke="#000" stroke-width="1.3" />
<line x1="110" y1="378.48" x2="116.6" y2="378.48" stroke="#000" stroke-width="1.3" />
<line x1="537.8" y1="378.48" x2="531.2" y2="378.48" stroke="#000" stroke-width="1.3" />
<line x1="110" y1="369.18" x2="116.6" y2="369.18" stroke="#000" stroke-width="1.3" />
<line x1="537.8" y1="369.18" x2="531.2" y2="369.18" stroke="#000" stroke-width="1.3" />
<line x1="110" y1="360.97" x2="116.6" y2="360.97" stroke="#000" stroke-width="1.3" />
<line x1="537.8" y1="360.97" x2="531.2" y2="360.97" stroke="#000" stroke-width="1.3" />
<line x1="110" y1="353.63" x2="122.7" y2="353.63" stroke="#000" stroke-width="1.3" />
<line x1="537.8" y1="353.63" x2="525.1" y2="353.63" stroke="#000" stroke-width="1.3" />
<line x1="110" y1="305.34" x2="116.6" y2="305.34" stroke="#000" stroke-width="1.3" />
<line x1="537.8" y1="305.34" x2="531.2" y2="305.34" stroke="#000" stroke-width="1.3" />
<line x1="110" y1="277.09" x2="116.6" y2="277.09" stroke="#000" stroke-width="1.3" />
<line x1="537.8" y1="277.09" x2="531.2" y2="277.09" stroke="#000" stroke-width="1.3" />
<line x1="110" y1="257.04" x2="116.6" y2="257.04" stroke="#000" stroke-width="1.3" />
<line x1="537.8" y1="257.04" x2="531.2" y2="257.04" stroke="#000" stroke-width="1.3" />
<line x1="110" y1="241.49" x2="116.6" y2="241.49" stroke="#000" stroke-width="1.3" />
<line x1="537.8" y1="241.49" x2="531.2" y2="241.49" stroke="#000" stroke-width="1.3" />
<line x1="110" y1="228.79" x2="116.6" y2="228.79" stroke="#000" stroke-width="1.3" />
<line x1="537.8" y1="228.79" x2="531.2" y2="228.79" stroke="#000" stroke-width="1.3" />
<line x1="110" y1="218.05" x2="116.6" y2="218.05" stroke="#000" stroke-width="1.3" />
<line x1="537.8" y1="218.05" x2="531.2" y2="218.05" stroke="#000" stroke-width="1.3" />
<line x1="110" y1="208.75" x2="116.6" y2="208.75" stroke="#000" stroke-width="1.3" />
<line x1="537.8" y1="208.75" x2="531.2" y2="208.75" stroke="#000" stroke-width="1.3" />
<line x1="110" y1="200.54" x2="116.6" y2="200.54" stroke="#000" stroke-width="1.3" />
<line x1="537.8" y1="200.54" x2="531.2" y2="200.54" stroke="#000" stroke-width="1.3" />
<line x1="110" y1="193.2" x2="122.7" y2="193.2" stroke="#000" stroke-width="1.3" />
<line x1="537.8" y1="193.2" x2="525.1" y2="193.2" stroke="#000" stroke-width="1.3" />
<line x1="110" y1="144.91" x2="116.6" y2="144.91" stroke="#000" stroke-width="1.3" />
<line x1="537.8" y1="144.91" x2="531.2" y2="144.91" stroke="#000" stroke-width="1.3" />
<line x1="110" y1="116.66" x2="116.6" y2="116.66" stroke="#000" stroke-width="1.3" />
<line x1="537.8" y1="116.66" x2="531.2" y2="116.66" stroke="#000" stroke-width="1.3" />
<line x1="110" y1="96.61" x2="116.6" y2="96.61" stroke="#000" stroke-width="1.3" />
<line x1="537.8" y1="96.61" x2="531.2" y2="96.61" stroke="#000" stroke-width="1.3" />
<rect x="110.0" y="81.0" width="427.8" height="1122.8" fill="none" stroke="#000" stroke-width="1.6"/>
<text x="151.6" y="70.1" font-size="28" text-anchor="middle" fill="#000" >10<tspan font-size="20" dy="-9.2">1</tspan></text>
<text x="151.6" y="1237.3" font-size="28" text-anchor="middle" fill="#000" >10<tspan font-size="20" dy="-9.2">1</tspan></text>
<text x="294.25" y="70.1" font-size="28" text-anchor="middle" fill="#000" >10<tspan font-size="20" dy="-9.2">2</tspan></text>
<text x="294.25" y="1237.3" font-size="28" text-anchor="middle" fill="#000" >10<tspan font-size="20" dy="-9.2">2</tspan></text>
<text x="436.9" y="70.1" font-size="28" text-anchor="middle" fill="#000" >10<tspan font-size="20" dy="-9.2">3</tspan></text>
<text x="436.9" y="1237.3" font-size="28" text-anchor="middle" fill="#000" >10<tspan font-size="20" dy="-9.2">3</tspan></text>
<text x="100" y="201.9" font-size="28" text-anchor="end" fill="#000" >10<tspan font-size="20" dy="-9.2">0</tspan></text>
<text x="549" y="201.9" font-size="28" fill="#000" >10<tspan font-size="20" dy="-9.2">0</tspan></text>
<text x="100" y="362.5" font-size="28" text-anchor="end" fill="#000" >10<tspan font-size="20" dy="-9.2">−1</tspan></text>
<text x="549" y="362.5" font-size="28" fill="#000" >10<tspan font-size="20" dy="-9.2">−1</tspan></text>
<text x="100" y="523.1" font-size="28" text-anchor="end" fill="#000" >10<tspan font-size="20" dy="-9.2">−2</tspan></text>
<text x="549" y="523.1" font-size="28" fill="#000" >10<tspan font-size="20" dy="-9.2">−2</tspan></text>
<text x="100" y="683.7" font-size="28" text-anchor="end" fill="#000" >10<tspan font-size="20" dy="-9.2">−3</tspan></text>
<text x="549" y="683.7" font-size="28" fill="#000" >10<tspan font-size="20" dy="-9.2">−3</tspan></text>
<text x="100" y="844.3" font-size="28" text-anchor="end" fill="#000" >10<tspan font-size="20" dy="-9.2">−4</tspan></text>
<text x="549" y="844.3" font-size="28" fill="#000" >10<tspan font-size="20" dy="-9.2">−4</tspan></text>
<text x="100" y="1004.9" font-size="28" text-anchor="end" fill="#000" >10<tspan font-size="20" dy="-9.2">−5</tspan></text>
<text x="549" y="1004.9" font-size="28" fill="#000" >10<tspan font-size="20" dy="-9.2">−5</tspan></text>
<text x="100" y="1165.5" font-size="28" text-anchor="end" fill="#000" >10<tspan font-size="20" dy="-9.2">−6</tspan></text>
<text x="549" y="1165.5" font-size="28" fill="#000" >10<tspan font-size="20" dy="-9.2">−6</tspan></text>
<text x="325.2" y="20.4" font-size="28.2" text-anchor="middle" fill="#000" >Size (nm)</text>
<text x="325.9" y="1281.7" font-size="29" text-anchor="middle" fill="#000" >Spatial resolution (nm)</text>
<text transform="translate(25.0,641) rotate(-90)" font-size="29" text-anchor="middle">Sensitivity (K Hz<tspan font-size="20" dy="-9.5">−1/2</tspan><tspan dy="9.5">)</tspan></text>
<text transform="translate(629.5,644.2) rotate(90)" font-size="27.5" text-anchor="middle"><tspan font-style="italic">T</tspan> (K)</text>
<text x="8" y="117.3" font-size="35" font-weight="bold" fill="#000" >a</text>
<line x1="110.3" y1="646.5" x2="350.5" y2="1186.5" stroke="#000" stroke-width="3.8" stroke-dasharray="27 16.4"/>
<text transform="translate(141.6,807.8) rotate(66.2)" font-size="28">1 GHz qubit (4 K)</text>
<circle cx="137.8" cy="117.7" r="12" fill="#0000fa"/>
<circle cx="495.8" cy="207.5" r="12" fill="#0000fa"/>
<circle cx="151.2" cy="278" r="12" fill="#0000fa"/>
<circle cx="438.8" cy="378.5" r="12" fill="#0000fa"/>
<circle cx="151.2" cy="438.3" r="12" fill="#0000fa"/>
<circle cx="251.7" cy="514.5" r="12" fill="#0000fa"/>
<circle cx="338.5" cy="520" r="12" fill="#0000fa"/>
<text x="161.5" y="128.1" font-size="29" fill="#000" >Plasmon TEM</text>
<text x="449.2" y="217.6" font-size="29" fill="#000" >IR</text>
<text x="169.3" y="288.6" font-size="29" fill="#000" >SNOM</text>
<text x="392.2" y="360.7" font-size="29" fill="#000" >Raman</text>
<text x="168.5" y="448.9" font-size="29" fill="#000" >TC SThM</text>
<text x="326.2" y="500" font-size="29" fill="#000" >Nanodiamond</text>
<text x="124.9" y="556.4" font-size="29" fill="#000" >Res. SThM</text>
<text x="190.5" y="1148.8" font-size="29" fill="#000" >tSOT</text>
<rect x="233.5" y="1157.3" width="25.2" height="24.7" fill="#f50000"/>
<polygon points="306,1067.7 322,1088.5 306,1109.4 290,1088.5" fill="#22ee22"/>
<line x1="280.3" y1="1033.5" x2="280.3" y2="975" stroke="#000" stroke-width="2.0" />
<line x1="279.3" y1="1032.7" x2="337" y2="1032.7" stroke="#000" stroke-width="2.0" />
<polygon points="280.3,970.2 288.6,990.2 280.3,985.8 272,990.2" fill="#000"/>
<polygon points="343,1032.7 322.5,1041 327.1,1032.7 322.5,1024.4" fill="#000"/>
<line x1="1289.73" y1="583.4" x2="1289.73" y2="578.9" stroke="#000" stroke-width="1.3" />
<line x1="1289.73" y1="80.7" x2="1289.73" y2="85.2" stroke="#000" stroke-width="1.3" />
<line x1="1423.47" y1="583.4" x2="1423.47" y2="578.9" stroke="#000" stroke-width="1.3" />
<line x1="1423.47" y1="80.7" x2="1423.47" y2="85.2" stroke="#000" stroke-width="1.3" />
<line x1="1156" y1="415.83" x2="1160.5" y2="415.83" stroke="#000" stroke-width="1.3" />
<line x1="1557.2" y1="415.83" x2="1552.7" y2="415.83" stroke="#000" stroke-width="1.3" />
<line x1="1156" y1="248.27" x2="1160.5" y2="248.27" stroke="#000" stroke-width="1.3" />
<line x1="1557.2" y1="248.27" x2="1552.7" y2="248.27" stroke="#000" stroke-width="1.3" />
<defs><linearGradient id="cmap" x1="0" x2="1" y1="0" y2="0">
<stop offset="0" stop-color="#0010ff"/><stop offset="0.17" stop-color="#1a5896"/><stop offset="0.33" stop-color="#00a070"/>
<stop offset="0.5" stop-color="#00ff14"/><stop offset="0.67" stop-color="#4cb414"/><stop offset="0.83" stop-color="#b05a0c"/><stop offset="1" stop-color="#ff0a0a"/>
</linearGradient></defs>
<rect x="1334.6" y="537.9" width="201" height="18.4" rx="1.5" fill="url(#cmap)" stroke="#000" stroke-width="1.4"/>
<line x1="1402.2" y1="537.9" x2="1402.2" y2="540.5" stroke="#000" stroke-width="1.2" />
<line x1="1402.2" y1="556.3" x2="1402.2" y2="553.7" stroke="#000" stroke-width="1.2" />
<line x1="1468.5" y1="537.9" x2="1468.5" y2="540.5" stroke="#000" stroke-width="1.2" />
<line x1="1468.5" y1="556.3" x2="1468.5" y2="553.7" stroke="#000" stroke-width="1.2" />
<text x="1333.6" y="527.8" font-size="27" text-anchor="middle" fill="#000" >4</text>
<text x="1401.1" y="527.8" font-size="27" text-anchor="middle" fill="#000" >5</text>
<text x="1466.2" y="527.8" font-size="27" text-anchor="middle" fill="#000" >6</text>
<text x="1534" y="527.8" font-size="27" text-anchor="middle" fill="#000" >7</text>
<text x="1427.5" y="489.7" font-size="28" text-anchor="middle" fill="#000" ><tspan font-style="italic">T</tspan> (K)</text>
<path d="M1157,583.3 L1433.04,200.98 Q1435.4,197.72 1438.25,194.91 L1520,114.5 L1558,80.6" fill="none" stroke="#0000f0" stroke-width="4.4" stroke-linejoin="round" stroke-linecap="round"/>
<path d="M1157,583.3 L1382.86,270.48 Q1386.4,265.58 1390.7,261.4 L1558,98.8" fill="none" stroke="#147890" stroke-width="4.4" stroke-linejoin="round" stroke-linecap="round"/>
<path d="M1157,583.3 L1343.86,324.5 Q1347.4,319.6 1351.69,315.4 L1558,113.8" fill="none" stroke="#10c050" stroke-width="4.4" stroke-linejoin="round" stroke-linecap="round"/>
<path d="M1157,583.3 L1302.46,381.84 Q1306,376.93 1310.29,372.74 L1558,130.5" fill="none" stroke="#22cc1c" stroke-width="4.4" stroke-linejoin="round" stroke-linecap="round"/>
<path d="M1157,583.3 L1212.46,506.49 Q1216,501.58 1220.18,497.28 L1558,149.2" fill="none" stroke="#7a8018" stroke-width="4.4" stroke-linejoin="round" stroke-linecap="round"/>
<path d="M1157,583.3 L1558,170.6" fill="none" stroke="#ee1010" stroke-width="4.4" stroke-linecap="round"/>
<rect x="1518.3" y="90.5" width="4.8" height="4.8" transform="rotate(45 1520.7 92.9)" fill="#000"/>
<rect x="1518.3" y="102" width="4.8" height="4.8" transform="rotate(45 1520.7 104.4)" fill="#000"/>
<rect x="1518.3" y="113.5" width="4.8" height="4.8" transform="rotate(45 1520.7 115.9)" fill="#000"/>
<rect x="1518.3" y="125" width="4.8" height="4.8" transform="rotate(45 1520.7 127.4)" fill="#000"/>
<rect x="1518.3" y="136.5" width="4.8" height="4.8" transform="rotate(45 1520.7 138.9)" fill="#000"/>
<rect x="1518.3" y="148" width="4.8" height="4.8" transform="rotate(45 1520.7 150.4)" fill="#000"/>
<rect x="1518.3" y="159.5" width="4.8" height="4.8" transform="rotate(45 1520.7 161.9)" fill="#000"/>
<rect x="1518.3" y="171" width="4.8" height="4.8" transform="rotate(45 1520.7 173.4)" fill="#000"/>
<rect x="1518.3" y="182.5" width="4.8" height="4.8" transform="rotate(45 1520.7 184.9)" fill="#000"/>
<rect x="1518.3" y="194" width="4.8" height="4.8" transform="rotate(45 1520.7 196.4)" fill="#000"/>
<rect x="1518.3" y="205.5" width="4.8" height="4.8" transform="rotate(45 1520.7 207.9)" fill="#000"/>
<rect x="1518.3" y="217" width="4.8" height="4.8" transform="rotate(45 1520.7 219.4)" fill="#000"/>
<rect x="1518.3" y="228.5" width="4.8" height="4.8" transform="rotate(45 1520.7 230.9)" fill="#000"/>
<rect x="1518.3" y="240" width="4.8" height="4.8" transform="rotate(45 1520.7 242.4)" fill="#000"/>
<rect x="1156.0" y="80.7" width="401.2" height="502.7" fill="none" stroke="#000" stroke-width="1.6"/>
<text x="1148" y="594.9" font-size="28" text-anchor="end" fill="#000" >0</text>
<text x="1148" y="427.33" font-size="28" text-anchor="end" fill="#000" >50</text>
<text x="1148" y="259.77" font-size="28" text-anchor="end" fill="#000" >100</text>
<text x="1148" y="92.2" font-size="28" text-anchor="end" fill="#000" >150</text>
<text x="1153.4" y="614.5" font-size="28" text-anchor="middle" fill="#000" >0</text>
<text x="1285.7" y="614.5" font-size="28" text-anchor="middle" fill="#000" >60</text>
<text x="1419.6" y="614.5" font-size="28" text-anchor="middle" fill="#000" >120</text>
<text x="1550.8" y="614.5" font-size="28" text-anchor="middle" fill="#000" >180</text>
<text x="1175" y="128.7" font-size="35" font-weight="bold" fill="#000" >c</text>
<text x="1300" y="653.7" font-size="28"><tspan font-style="italic">I</tspan><tspan font-size="20" dy="8.3">bias</tspan><tspan dy="-8.3"> (μA)</tspan></text>
<text transform="translate(1092.2,397) rotate(-90)" font-size="28"><tspan font-style="italic">I</tspan><tspan font-size="20" dy="8.3">tSOT</tspan><tspan dy="-8.3"> (μA)</tspan></text>
<text x="1302.4" y="180.6" font-size="28"><tspan font-style="italic">I</tspan><tspan font-size="21" dy="8.3">c</tspan><tspan dx="1.5" dy="-8.3"> (4.2 K)</tspan></text>
<text x="1185" y="360.3" font-size="28"><tspan font-style="italic">I</tspan><tspan font-size="21" dy="8.3">c</tspan><tspan dx="1.5" dy="-8.3"> (6 K)</tspan></text>
<line x1="1352.4" y1="197.5" x2="1414" y2="197.5" stroke="#000" stroke-width="1.6" />
<polygon points="1428.6,197.5 1409,205.5 1413.8,197.5 1409,189.5" fill="#000"/>
<line x1="1224.7" y1="376.4" x2="1286" y2="376.4" stroke="#000" stroke-width="1.6" />
<polygon points="1300.6,376.4 1281,384.4 1285.8,376.4 1281,368.4" fill="#000"/>
<line x1="1173.25" y1="701.1" x2="1173.25" y2="707.7" stroke="#000" stroke-width="1.3" />
<line x1="1173.25" y1="1203.3" x2="1173.25" y2="1196.7" stroke="#000" stroke-width="1.3" />
<line x1="1183.33" y1="701.1" x2="1183.33" y2="707.7" stroke="#000" stroke-width="1.3" />
<line x1="1183.33" y1="1203.3" x2="1183.33" y2="1196.7" stroke="#000" stroke-width="1.3" />
<line x1="1190.49" y1="701.1" x2="1190.49" y2="707.7" stroke="#000" stroke-width="1.3" />
<line x1="1190.49" y1="1203.3" x2="1190.49" y2="1196.7" stroke="#000" stroke-width="1.3" />
<line x1="1196.04" y1="701.1" x2="1196.04" y2="707.7" stroke="#000" stroke-width="1.3" />
<line x1="1196.04" y1="1203.3" x2="1196.04" y2="1196.7" stroke="#000" stroke-width="1.3" />
<line x1="1200.58" y1="701.1" x2="1200.58" y2="707.7" stroke="#000" stroke-width="1.3" />
<line x1="1200.58" y1="1203.3" x2="1200.58" y2="1196.7" stroke="#000" stroke-width="1.3" />
<line x1="1204.42" y1="701.1" x2="1204.42" y2="707.7" stroke="#000" stroke-width="1.3" />
<line x1="1204.42" y1="1203.3" x2="1204.42" y2="1196.7" stroke="#000" stroke-width="1.3" />
<line x1="1207.74" y1="701.1" x2="1207.74" y2="707.7" stroke="#000" stroke-width="1.3" />
<line x1="1207.74" y1="1203.3" x2="1207.74" y2="1196.7" stroke="#000" stroke-width="1.3" />
<line x1="1210.67" y1="701.1" x2="1210.67" y2="707.7" stroke="#000" stroke-width="1.3" />
<line x1="1210.67" y1="1203.3" x2="1210.67" y2="1196.7" stroke="#000" stroke-width="1.3" />
<line x1="1213.29" y1="701.1" x2="1213.29" y2="713.8" stroke="#000" stroke-width="1.3" />
<line x1="1213.29" y1="1203.3" x2="1213.29" y2="1190.6" stroke="#000" stroke-width="1.3" />
<line x1="1230.54" y1="701.1" x2="1230.54" y2="707.7" stroke="#000" stroke-width="1.3" />
<line x1="1230.54" y1="1203.3" x2="1230.54" y2="1196.7" stroke="#000" stroke-width="1.3" />
<line x1="1240.62" y1="701.1" x2="1240.62" y2="707.7" stroke="#000" stroke-width="1.3" />
<line x1="1240.62" y1="1203.3" x2="1240.62" y2="1196.7" stroke="#000" stroke-width="1.3" />
<line x1="1247.78" y1="701.1" x2="1247.78" y2="707.7" stroke="#000" stroke-width="1.3" />
<line x1="1247.78" y1="1203.3" x2="1247.78" y2="1196.7" stroke="#000" stroke-width="1.3" />
<line x1="1253.33" y1="701.1" x2="1253.33" y2="707.7" stroke="#000" stroke-width="1.3" />
<line x1="1253.33" y1="1203.3" x2="1253.33" y2="1196.7" stroke="#000" stroke-width="1.3" />
<line x1="1257.87" y1="701.1" x2="1257.87" y2="707.7" stroke="#000" stroke-width="1.3" />
<line x1="1257.87" y1="1203.3" x2="1257.87" y2="1196.7" stroke="#000" stroke-width="1.3" />
<line x1="1261.71" y1="701.1" x2="1261.71" y2="707.7" stroke="#000" stroke-width="1.3" />
<line x1="1261.71" y1="1203.3" x2="1261.71" y2="1196.7" stroke="#000" stroke-width="1.3" />
<line x1="1265.03" y1="701.1" x2="1265.03" y2="707.7" stroke="#000" stroke-width="1.3" />
<line x1="1265.03" y1="1203.3" x2="1265.03" y2="1196.7" stroke="#000" stroke-width="1.3" />
<line x1="1267.96" y1="701.1" x2="1267.96" y2="707.7" stroke="#000" stroke-width="1.3" />
<line x1="1267.96" y1="1203.3" x2="1267.96" y2="1196.7" stroke="#000" stroke-width="1.3" />
<line x1="1270.58" y1="701.1" x2="1270.58" y2="713.8" stroke="#000" stroke-width="1.3" />
<line x1="1270.58" y1="1203.3" x2="1270.58" y2="1190.6" stroke="#000" stroke-width="1.3" />
<line x1="1287.83" y1="701.1" x2="1287.83" y2="707.7" stroke="#000" stroke-width="1.3" />
<line x1="1287.83" y1="1203.3" x2="1287.83" y2="1196.7" stroke="#000" stroke-width="1.3" />
<line x1="1297.91" y1="701.1" x2="1297.91" y2="707.7" stroke="#000" stroke-width="1.3" />
<line x1="1297.91" y1="1203.3" x2="1297.91" y2="1196.7" stroke="#000" stroke-width="1.3" />
<line x1="1305.07" y1="701.1" x2="1305.07" y2="707.7" stroke="#000" stroke-width="1.3" />
<line x1="1305.07" y1="1203.3" x2="1305.07" y2="1196.7" stroke="#000" stroke-width="1.3" />
<line x1="1310.62" y1="701.1" x2="1310.62" y2="707.7" stroke="#000" stroke-width="1.3" />
<line x1="1310.62" y1="1203.3" x2="1310.62" y2="1196.7" stroke="#000" stroke-width="1.3" />
<line x1="1315.16" y1="701.1" x2="1315.16" y2="707.7" stroke="#000" stroke-width="1.3" />
<line x1="1315.16" y1="1203.3" x2="1315.16" y2="1196.7" stroke="#000" stroke-width="1.3" />
<line x1="1319" y1="701.1" x2="1319" y2="707.7" stroke="#000" stroke-width="1.3" />
<line x1="1319" y1="1203.3" x2="1319" y2="1196.7" stroke="#000" stroke-width="1.3" />
<line x1="1322.32" y1="701.1" x2="1322.32" y2="707.7" stroke="#000" stroke-width="1.3" />
<line x1="1322.32" y1="1203.3" x2="1322.32" y2="1196.7" stroke="#000" stroke-width="1.3" />
<line x1="1325.25" y1="701.1" x2="1325.25" y2="707.7" stroke="#000" stroke-width="1.3" />
<line x1="1325.25" y1="1203.3" x2="1325.25" y2="1196.7" stroke="#000" stroke-width="1.3" />
<line x1="1327.87" y1="701.1" x2="1327.87" y2="713.8" stroke="#000" stroke-width="1.3" />
<line x1="1327.87" y1="1203.3" x2="1327.87" y2="1190.6" stroke="#000" stroke-width="1.3" />
<line x1="1345.12" y1="701.1" x2="1345.12" y2="707.7" stroke="#000" stroke-width="1.3" />
<line x1="1345.12" y1="1203.3" x2="1345.12" y2="1196.7" stroke="#000" stroke-width="1.3" />
<line x1="1355.2" y1="701.1" x2="1355.2" y2="707.7" stroke="#000" stroke-width="1.3" />
<line x1="1355.2" y1="1203.3" x2="1355.2" y2="1196.7" stroke="#000" stroke-width="1.3" />
<line x1="1362.36" y1="701.1" x2="1362.36" y2="707.7" stroke="#000" stroke-width="1.3" />
<line x1="1362.36" y1="1203.3" x2="1362.36" y2="1196.7" stroke="#000" stroke-width="1.3" />
<line x1="1367.91" y1="701.1" x2="1367.91" y2="707.7" stroke="#000" stroke-width="1.3" />
<line x1="1367.91" y1="1203.3" x2="1367.91" y2="1196.7" stroke="#000" stroke-width="1.3" />
<line x1="1372.45" y1="701.1" x2="1372.45" y2="707.7" stroke="#000" stroke-width="1.3" />
<line x1="1372.45" y1="1203.3" x2="1372.45" y2="1196.7" stroke="#000" stroke-width="1.3" />
<line x1="1376.29" y1="701.1" x2="1376.29" y2="707.7" stroke="#000" stroke-width="1.3" />
<line x1="1376.29" y1="1203.3" x2="1376.29" y2="1196.7" stroke="#000" stroke-width="1.3" />
<line x1="1379.61" y1="701.1" x2="1379.61" y2="707.7" stroke="#000" stroke-width="1.3" />
<line x1="1379.61" y1="1203.3" x2="1379.61" y2="1196.7" stroke="#000" stroke-width="1.3" />
<line x1="1382.54" y1="701.1" x2="1382.54" y2="707.7" stroke="#000" stroke-width="1.3" />
<line x1="1382.54" y1="1203.3" x2="1382.54" y2="1196.7" stroke="#000" stroke-width="1.3" />
<line x1="1385.16" y1="701.1" x2="1385.16" y2="713.8" stroke="#000" stroke-width="1.3" />
<line x1="1385.16" y1="1203.3" x2="1385.16" y2="1190.6" stroke="#000" stroke-width="1.3" />
<line x1="1402.41" y1="701.1" x2="1402.41" y2="707.7" stroke="#000" stroke-width="1.3" />
<line x1="1402.41" y1="1203.3" x2="1402.41" y2="1196.7" stroke="#000" stroke-width="1.3" />
<line x1="1412.49" y1="701.1" x2="1412.49" y2="707.7" stroke="#000" stroke-width="1.3" />
<line x1="1412.49" y1="1203.3" x2="1412.49" y2="1196.7" stroke="#000" stroke-width="1.3" />
<line x1="1419.65" y1="701.1" x2="1419.65" y2="707.7" stroke="#000" stroke-width="1.3" />
<line x1="1419.65" y1="1203.3" x2="1419.65" y2="1196.7" stroke="#000" stroke-width="1.3" />
<line x1="1425.2" y1="701.1" x2="1425.2" y2="707.7" stroke="#000" stroke-width="1.3" />
<line x1="1425.2" y1="1203.3" x2="1425.2" y2="1196.7" stroke="#000" stroke-width="1.3" />
<line x1="1429.74" y1="701.1" x2="1429.74" y2="707.7" stroke="#000" stroke-width="1.3" />
<line x1="1429.74" y1="1203.3" x2="1429.74" y2="1196.7" stroke="#000" stroke-width="1.3" />
<line x1="1433.58" y1="701.1" x2="1433.58" y2="707.7" stroke="#000" stroke-width="1.3" />
<line x1="1433.58" y1="1203.3" x2="1433.58" y2="1196.7" stroke="#000" stroke-width="1.3" />
<line x1="1436.9" y1="701.1" x2="1436.9" y2="707.7" stroke="#000" stroke-width="1.3" />
<line x1="1436.9" y1="1203.3" x2="1436.9" y2="1196.7" stroke="#000" stroke-width="1.3" />
<line x1="1439.83" y1="701.1" x2="1439.83" y2="707.7" stroke="#000" stroke-width="1.3" />
<line x1="1439.83" y1="1203.3" x2="1439.83" y2="1196.7" stroke="#000" stroke-width="1.3" />
<line x1="1442.45" y1="701.1" x2="1442.45" y2="713.8" stroke="#000" stroke-width="1.3" />
<line x1="1442.45" y1="1203.3" x2="1442.45" y2="1190.6" stroke="#000" stroke-width="1.3" />
<line x1="1459.7" y1="701.1" x2="1459.7" y2="707.7" stroke="#000" stroke-width="1.3" />
<line x1="1459.7" y1="1203.3" x2="1459.7" y2="1196.7" stroke="#000" stroke-width="1.3" />
<line x1="1469.78" y1="701.1" x2="1469.78" y2="707.7" stroke="#000" stroke-width="1.3" />
<line x1="1469.78" y1="1203.3" x2="1469.78" y2="1196.7" stroke="#000" stroke-width="1.3" />
<line x1="1476.94" y1="701.1" x2="1476.94" y2="707.7" stroke="#000" stroke-width="1.3" />
<line x1="1476.94" y1="1203.3" x2="1476.94" y2="1196.7" stroke="#000" stroke-width="1.3" />
<line x1="1482.49" y1="701.1" x2="1482.49" y2="707.7" stroke="#000" stroke-width="1.3" />
<line x1="1482.49" y1="1203.3" x2="1482.49" y2="1196.7" stroke="#000" stroke-width="1.3" />
<line x1="1487.03" y1="701.1" x2="1487.03" y2="707.7" stroke="#000" stroke-width="1.3" />
<line x1="1487.03" y1="1203.3" x2="1487.03" y2="1196.7" stroke="#000" stroke-width="1.3" />
<line x1="1490.87" y1="701.1" x2="1490.87" y2="707.7" stroke="#000" stroke-width="1.3" />
<line x1="1490.87" y1="1203.3" x2="1490.87" y2="1196.7" stroke="#000" stroke-width="1.3" />
<line x1="1494.19" y1="701.1" x2="1494.19" y2="707.7" stroke="#000" stroke-width="1.3" />
<line x1="1494.19" y1="1203.3" x2="1494.19" y2="1196.7" stroke="#000" stroke-width="1.3" />
<line x1="1497.12" y1="701.1" x2="1497.12" y2="707.7" stroke="#000" stroke-width="1.3" />
<line x1="1497.12" y1="1203.3" x2="1497.12" y2="1196.7" stroke="#000" stroke-width="1.3" />
<line x1="1499.74" y1="701.1" x2="1499.74" y2="713.8" stroke="#000" stroke-width="1.3" />
<line x1="1499.74" y1="1203.3" x2="1499.74" y2="1190.6" stroke="#000" stroke-width="1.3" />
<line x1="1516.99" y1="701.1" x2="1516.99" y2="707.7" stroke="#000" stroke-width="1.3" />
<line x1="1516.99" y1="1203.3" x2="1516.99" y2="1196.7" stroke="#000" stroke-width="1.3" />
<line x1="1527.07" y1="701.1" x2="1527.07" y2="707.7" stroke="#000" stroke-width="1.3" />
<line x1="1527.07" y1="1203.3" x2="1527.07" y2="1196.7" stroke="#000" stroke-width="1.3" />
<line x1="1534.23" y1="701.1" x2="1534.23" y2="707.7" stroke="#000" stroke-width="1.3" />
<line x1="1534.23" y1="1203.3" x2="1534.23" y2="1196.7" stroke="#000" stroke-width="1.3" />
<line x1="1539.78" y1="701.1" x2="1539.78" y2="707.7" stroke="#000" stroke-width="1.3" />
<line x1="1539.78" y1="1203.3" x2="1539.78" y2="1196.7" stroke="#000" stroke-width="1.3" />
<line x1="1544.32" y1="701.1" x2="1544.32" y2="707.7" stroke="#000" stroke-width="1.3" />
<line x1="1544.32" y1="1203.3" x2="1544.32" y2="1196.7" stroke="#000" stroke-width="1.3" />
<line x1="1548.16" y1="701.1" x2="1548.16" y2="707.7" stroke="#000" stroke-width="1.3" />
<line x1="1548.16" y1="1203.3" x2="1548.16" y2="1196.7" stroke="#000" stroke-width="1.3" />
<line x1="1551.48" y1="701.1" x2="1551.48" y2="707.7" stroke="#000" stroke-width="1.3" />
<line x1="1551.48" y1="1203.3" x2="1551.48" y2="1196.7" stroke="#000" stroke-width="1.3" />
<line x1="1554.41" y1="701.1" x2="1554.41" y2="707.7" stroke="#000" stroke-width="1.3" />
<line x1="1554.41" y1="1203.3" x2="1554.41" y2="1196.7" stroke="#000" stroke-width="1.3" />
<line x1="1156" y1="1178.1" x2="1162.6" y2="1178.1" stroke="#000" stroke-width="1.3" />
<line x1="1557" y1="1178.1" x2="1550.4" y2="1178.1" stroke="#000" stroke-width="1.3" />
<line x1="1156" y1="1163.36" x2="1162.6" y2="1163.36" stroke="#000" stroke-width="1.3" />
<line x1="1557" y1="1163.36" x2="1550.4" y2="1163.36" stroke="#000" stroke-width="1.3" />
<line x1="1156" y1="1152.91" x2="1162.6" y2="1152.91" stroke="#000" stroke-width="1.3" />
<line x1="1557" y1="1152.91" x2="1550.4" y2="1152.91" stroke="#000" stroke-width="1.3" />
<line x1="1156" y1="1144.8" x2="1162.6" y2="1144.8" stroke="#000" stroke-width="1.3" />
<line x1="1557" y1="1144.8" x2="1550.4" y2="1144.8" stroke="#000" stroke-width="1.3" />
<line x1="1156" y1="1138.17" x2="1162.6" y2="1138.17" stroke="#000" stroke-width="1.3" />
<line x1="1557" y1="1138.17" x2="1550.4" y2="1138.17" stroke="#000" stroke-width="1.3" />
<line x1="1156" y1="1132.57" x2="1162.6" y2="1132.57" stroke="#000" stroke-width="1.3" />
<line x1="1557" y1="1132.57" x2="1550.4" y2="1132.57" stroke="#000" stroke-width="1.3" />
<line x1="1156" y1="1127.71" x2="1162.6" y2="1127.71" stroke="#000" stroke-width="1.3" />
<line x1="1557" y1="1127.71" x2="1550.4" y2="1127.71" stroke="#000" stroke-width="1.3" />
<line x1="1156" y1="1123.43" x2="1162.6" y2="1123.43" stroke="#000" stroke-width="1.3" />
<line x1="1557" y1="1123.43" x2="1550.4" y2="1123.43" stroke="#000" stroke-width="1.3" />
<line x1="1156" y1="1119.6" x2="1168.7" y2="1119.6" stroke="#000" stroke-width="1.3" />
<line x1="1557" y1="1119.6" x2="1544.3" y2="1119.6" stroke="#000" stroke-width="1.3" />
<line x1="1156" y1="1094.4" x2="1162.6" y2="1094.4" stroke="#000" stroke-width="1.3" />
<line x1="1557" y1="1094.4" x2="1550.4" y2="1094.4" stroke="#000" stroke-width="1.3" />
<line x1="1156" y1="1079.66" x2="1162.6" y2="1079.66" stroke="#000" stroke-width="1.3" />
<line x1="1557" y1="1079.66" x2="1550.4" y2="1079.66" stroke="#000" stroke-width="1.3" />
<line x1="1156" y1="1069.21" x2="1162.6" y2="1069.21" stroke="#000" stroke-width="1.3" />
<line x1="1557" y1="1069.21" x2="1550.4" y2="1069.21" stroke="#000" stroke-width="1.3" />
<line x1="1156" y1="1061.1" x2="1162.6" y2="1061.1" stroke="#000" stroke-width="1.3" />
<line x1="1557" y1="1061.1" x2="1550.4" y2="1061.1" stroke="#000" stroke-width="1.3" />
<line x1="1156" y1="1054.47" x2="1162.6" y2="1054.47" stroke="#000" stroke-width="1.3" />
<line x1="1557" y1="1054.47" x2="1550.4" y2="1054.47" stroke="#000" stroke-width="1.3" />
<line x1="1156" y1="1048.87" x2="1162.6" y2="1048.87" stroke="#000" stroke-width="1.3" />
<line x1="1557" y1="1048.87" x2="1550.4" y2="1048.87" stroke="#000" stroke-width="1.3" />
<line x1="1156" y1="1044.01" x2="1162.6" y2="1044.01" stroke="#000" stroke-width="1.3" />
<line x1="1557" y1="1044.01" x2="1550.4" y2="1044.01" stroke="#000" stroke-width="1.3" />
<line x1="1156" y1="1039.73" x2="1162.6" y2="1039.73" stroke="#000" stroke-width="1.3" />
<line x1="1557" y1="1039.73" x2="1550.4" y2="1039.73" stroke="#000" stroke-width="1.3" />
<line x1="1156" y1="1035.9" x2="1168.7" y2="1035.9" stroke="#000" stroke-width="1.3" />
<line x1="1557" y1="1035.9" x2="1544.3" y2="1035.9" stroke="#000" stroke-width="1.3" />
<line x1="1156" y1="1010.7" x2="1162.6" y2="1010.7" stroke="#000" stroke-width="1.3" />
<line x1="1557" y1="1010.7" x2="1550.4" y2="1010.7" stroke="#000" stroke-width="1.3" />
<line x1="1156" y1="995.96" x2="1162.6" y2="995.96" stroke="#000" stroke-width="1.3" />
<line x1="1557" y1="995.96" x2="1550.4" y2="995.96" stroke="#000" stroke-width="1.3" />
<line x1="1156" y1="985.51" x2="1162.6" y2="985.51" stroke="#000" stroke-width="1.3" />
<line x1="1557" y1="985.51" x2="1550.4" y2="985.51" stroke="#000" stroke-width="1.3" />
<line x1="1156" y1="977.4" x2="1162.6" y2="977.4" stroke="#000" stroke-width="1.3" />
<line x1="1557" y1="977.4" x2="1550.4" y2="977.4" stroke="#000" stroke-width="1.3" />
<line x1="1156" y1="970.77" x2="1162.6" y2="970.77" stroke="#000" stroke-width="1.3" />
<line x1="1557" y1="970.77" x2="1550.4" y2="970.77" stroke="#000" stroke-width="1.3" />
<line x1="1156" y1="965.17" x2="1162.6" y2="965.17" stroke="#000" stroke-width="1.3" />
<line x1="1557" y1="965.17" x2="1550.4" y2="965.17" stroke="#000" stroke-width="1.3" />
<line x1="1156" y1="960.31" x2="1162.6" y2="960.31" stroke="#000" stroke-width="1.3" />
<line x1="1557" y1="960.31" x2="1550.4" y2="960.31" stroke="#000" stroke-width="1.3" />
<line x1="1156" y1="956.03" x2="1162.6" y2="956.03" stroke="#000" stroke-width="1.3" />
<line x1="1557" y1="956.03" x2="1550.4" y2="956.03" stroke="#000" stroke-width="1.3" />
<line x1="1156" y1="952.2" x2="1168.7" y2="952.2" stroke="#000" stroke-width="1.3" />
<line x1="1557" y1="952.2" x2="1544.3" y2="952.2" stroke="#000" stroke-width="1.3" />
<line x1="1156" y1="927" x2="1162.6" y2="927" stroke="#000" stroke-width="1.3" />
<line x1="1557" y1="927" x2="1550.4" y2="927" stroke="#000" stroke-width="1.3" />
<line x1="1156" y1="912.26" x2="1162.6" y2="912.26" stroke="#000" stroke-width="1.3" />
<line x1="1557" y1="912.26" x2="1550.4" y2="912.26" stroke="#000" stroke-width="1.3" />
<line x1="1156" y1="901.81" x2="1162.6" y2="901.81" stroke="#000" stroke-width="1.3" />
<line x1="1557" y1="901.81" x2="1550.4" y2="901.81" stroke="#000" stroke-width="1.3" />
<line x1="1156" y1="893.7" x2="1162.6" y2="893.7" stroke="#000" stroke-width="1.3" />
<line x1="1557" y1="893.7" x2="1550.4" y2="893.7" stroke="#000" stroke-width="1.3" />
<line x1="1156" y1="887.07" x2="1162.6" y2="887.07" stroke="#000" stroke-width="1.3" />
<line x1="1557" y1="887.07" x2="1550.4" y2="887.07" stroke="#000" stroke-width="1.3" />
<line x1="1156" y1="881.47" x2="1162.6" y2="881.47" stroke="#000" stroke-width="1.3" />
<line x1="1557" y1="881.47" x2="1550.4" y2="881.47" stroke="#000" stroke-width="1.3" />
<line x1="1156" y1="876.61" x2="1162.6" y2="876.61" stroke="#000" stroke-width="1.3" />
<line x1="1557" y1="876.61" x2="1550.4" y2="876.61" stroke="#000" stroke-width="1.3" />
<line x1="1156" y1="872.33" x2="1162.6" y2="872.33" stroke="#000" stroke-width="1.3" />
<line x1="1557" y1="872.33" x2="1550.4" y2="872.33" stroke="#000" stroke-width="1.3" />
<line x1="1156" y1="868.5" x2="1168.7" y2="868.5" stroke="#000" stroke-width="1.3" />
<line x1="1557" y1="868.5" x2="1544.3" y2="868.5" stroke="#000" stroke-width="1.3" />
<line x1="1156" y1="843.3" x2="1162.6" y2="843.3" stroke="#000" stroke-width="1.3" />
<line x1="1557" y1="843.3" x2="1550.4" y2="843.3" stroke="#000" stroke-width="1.3" />
<line x1="1156" y1="828.56" x2="1162.6" y2="828.56" stroke="#000" stroke-width="1.3" />
<line x1="1557" y1="828.56" x2="1550.4" y2="828.56" stroke="#000" stroke-width="1.3" />
<line x1="1156" y1="818.11" x2="1162.6" y2="818.11" stroke="#000" stroke-width="1.3" />
<line x1="1557" y1="818.11" x2="1550.4" y2="818.11" stroke="#000" stroke-width="1.3" />
<line x1="1156" y1="810" x2="1162.6" y2="810" stroke="#000" stroke-width="1.3" />
<line x1="1557" y1="810" x2="1550.4" y2="810" stroke="#000" stroke-width="1.3" />
<line x1="1156" y1="803.37" x2="1162.6" y2="803.37" stroke="#000" stroke-width="1.3" />
<line x1="1557" y1="803.37" x2="1550.4" y2="803.37" stroke="#000" stroke-width="1.3" />
<line x1="1156" y1="797.77" x2="1162.6" y2="797.77" stroke="#000" stroke-width="1.3" />
<line x1="1557" y1="797.77" x2="1550.4" y2="797.77" stroke="#000" stroke-width="1.3" />
<line x1="1156" y1="792.91" x2="1162.6" y2="792.91" stroke="#000" stroke-width="1.3" />
<line x1="1557" y1="792.91" x2="1550.4" y2="792.91" stroke="#000" stroke-width="1.3" />
<line x1="1156" y1="788.63" x2="1162.6" y2="788.63" stroke="#000" stroke-width="1.3" />
<line x1="1557" y1="788.63" x2="1550.4" y2="788.63" stroke="#000" stroke-width="1.3" />
<line x1="1156" y1="784.8" x2="1168.7" y2="784.8" stroke="#000" stroke-width="1.3" />
<line x1="1557" y1="784.8" x2="1544.3" y2="784.8" stroke="#000" stroke-width="1.3" />
<line x1="1156" y1="759.6" x2="1162.6" y2="759.6" stroke="#000" stroke-width="1.3" />
<line x1="1557" y1="759.6" x2="1550.4" y2="759.6" stroke="#000" stroke-width="1.3" />
<line x1="1156" y1="744.86" x2="1162.6" y2="744.86" stroke="#000" stroke-width="1.3" />
<line x1="1557" y1="744.86" x2="1550.4" y2="744.86" stroke="#000" stroke-width="1.3" />
<line x1="1156" y1="734.41" x2="1162.6" y2="734.41" stroke="#000" stroke-width="1.3" />
<line x1="1557" y1="734.41" x2="1550.4" y2="734.41" stroke="#000" stroke-width="1.3" />
<line x1="1156" y1="726.3" x2="1162.6" y2="726.3" stroke="#000" stroke-width="1.3" />
<line x1="1557" y1="726.3" x2="1550.4" y2="726.3" stroke="#000" stroke-width="1.3" />
<line x1="1156" y1="719.67" x2="1162.6" y2="719.67" stroke="#000" stroke-width="1.3" />
<line x1="1557" y1="719.67" x2="1550.4" y2="719.67" stroke="#000" stroke-width="1.3" />
<line x1="1156" y1="714.07" x2="1162.6" y2="714.07" stroke="#000" stroke-width="1.3" />
<line x1="1557" y1="714.07" x2="1550.4" y2="714.07" stroke="#000" stroke-width="1.3" />
<line x1="1156" y1="709.21" x2="1162.6" y2="709.21" stroke="#000" stroke-width="1.3" />
<line x1="1557" y1="709.21" x2="1550.4" y2="709.21" stroke="#000" stroke-width="1.3" />
<line x1="1156" y1="704.93" x2="1162.6" y2="704.93" stroke="#000" stroke-width="1.3" />
<line x1="1557" y1="704.93" x2="1550.4" y2="704.93" stroke="#000" stroke-width="1.3" />
<rect x="1156.0" y="701.1" width="401" height="502.2" fill="none" stroke="#000" stroke-width="1.6"/>
<text x="1147" y="710.4" font-size="28" text-anchor="end" fill="#000" >10<tspan font-size="20" dy="-9.2">−1</tspan></text>
<text x="1147" y="878.7" font-size="28" text-anchor="end" fill="#000" >10<tspan font-size="20" dy="-9.2">−3</tspan></text>
<text x="1147" y="1047" font-size="28" text-anchor="end" fill="#000" >10<tspan font-size="20" dy="-9.2">−5</tspan></text>
<text x="1147" y="1215.3" font-size="28" text-anchor="end" fill="#000" >10<tspan font-size="20" dy="-9.2">−7</tspan></text>
<text x="1159.7" y="1240.5" font-size="28" text-anchor="middle" fill="#000" >10<tspan font-size="20" dy="-9.2">−16</tspan></text>
<text x="1273.9" y="1240.5" font-size="28" text-anchor="middle" fill="#000" >10<tspan font-size="20" dy="-9.2">−14</tspan></text>
<text x="1387" y="1240.5" font-size="28" text-anchor="middle" fill="#000" >10<tspan font-size="20" dy="-9.2">−12</tspan></text>
<text x="1501" y="1240.5" font-size="28" text-anchor="middle" fill="#000" >10<tspan font-size="20" dy="-9.2">−10</tspan></text>
<text x="1357.6" y="1282" font-size="28" text-anchor="middle" fill="#000" ><tspan font-style="italic">P</tspan> (W)</text>
<text transform="translate(1092.8,998.5) rotate(-90)" font-size="28"><tspan font-style="italic">T</tspan><tspan font-size="20" dy="8.3">ac</tspan><tspan dy="-8.3"> (K)</tspan></text>
<text x="1175" y="748.7" font-size="35" font-weight="bold" fill="#000" >e</text>
<circle cx="1198" cy="1148" r="9.8" fill="none" stroke="#ee0000" stroke-width="2.4"/>
<circle cx="1233.2" cy="1145.6" r="9.8" fill="none" stroke="#ee0000" stroke-width="2.4"/>
<circle cx="1268.6" cy="1151.3" r="9.8" fill="none" stroke="#ee0000" stroke-width="2.4"/>
<circle cx="1278.9" cy="1127.1" r="9.8" fill="none" stroke="#ee0000" stroke-width="2.4"/>
<circle cx="1287.4" cy="1119.8" r="9.8" fill="none" stroke="#ee0000" stroke-width="2.4"/>
<circle cx="1294.7" cy="1101.9" r="9.8" fill="none" stroke="#ee0000" stroke-width="2.4"/>
<circle cx="1309" cy="1083" r="9.8" fill="none" stroke="#ee0000" stroke-width="2.4"/>
<circle cx="1320.8" cy="1062.8" r="9.8" fill="none" stroke="#ee0000" stroke-width="2.4"/>
<circle cx="1326" cy="1053.61" r="9.8" fill="none" stroke="#ee0000" stroke-width="2.4"/>
<circle cx="1331.13" cy="1046.89" r="9.8" fill="none" stroke="#ee0000" stroke-width="2.4"/>
<circle cx="1336.44" cy="1040.65" r="9.8" fill="none" stroke="#ee0000" stroke-width="2.4"/>
<circle cx="1340.14" cy="1031.56" r="9.8" fill="none" stroke="#ee0000" stroke-width="2.4"/>
<circle cx="1346.15" cy="1024.24" r="9.8" fill="none" stroke="#ee0000" stroke-width="2.4"/>
<circle cx="1350.36" cy="1022.5" r="9.8" fill="none" stroke="#ee0000" stroke-width="2.4"/>
<circle cx="1355.27" cy="1014.36" r="9.8" fill="none" stroke="#ee0000" stroke-width="2.4"/>
<circle cx="1360.2" cy="1005.96" r="9.8" fill="none" stroke="#ee0000" stroke-width="2.4"/>
<circle cx="1364.15" cy="1000.15" r="9.8" fill="none" stroke="#ee0000" stroke-width="2.4"/>
<circle cx="1370.25" cy="990.54" r="9.8" fill="none" stroke="#ee0000" stroke-width="2.4"/>
<circle cx="1375.98" cy="983.05" r="9.8" fill="none" stroke="#ee0000" stroke-width="2.4"/>
<circle cx="1379.67" cy="978.17" r="9.8" fill="none" stroke="#ee0000" stroke-width="2.4"/>
<circle cx="1384.94" cy="967.7" r="9.8" fill="none" stroke="#ee0000" stroke-width="2.4"/>
<circle cx="1388.53" cy="965.83" r="9.8" fill="none" stroke="#ee0000" stroke-width="2.4"/>
<circle cx="1393.45" cy="957.75" r="9.8" fill="none" stroke="#ee0000" stroke-width="2.4"/>
<circle cx="1399.59" cy="948.74" r="9.8" fill="none" stroke="#ee0000" stroke-width="2.4"/>
<circle cx="1405.85" cy="937.65" r="9.8" fill="none" stroke="#ee0000" stroke-width="2.4"/>
<circle cx="1411.76" cy="929.31" r="9.8" fill="none" stroke="#ee0000" stroke-width="2.4"/>
<circle cx="1418.06" cy="922.68" r="9.8" fill="none" stroke="#ee0000" stroke-width="2.4"/>
<circle cx="1421.85" cy="912.67" r="9.8" fill="none" stroke="#ee0000" stroke-width="2.4"/>
<circle cx="1426.01" cy="911.57" r="9.8" fill="none" stroke="#ee0000" stroke-width="2.4"/>
<circle cx="1430.81" cy="902.5" r="9.8" fill="none" stroke="#ee0000" stroke-width="2.4"/>
<circle cx="1435.22" cy="895.34" r="9.8" fill="none" stroke="#ee0000" stroke-width="2.4"/>
<circle cx="1439.87" cy="887.58" r="9.8" fill="none" stroke="#ee0000" stroke-width="2.4"/>
<circle cx="1445.13" cy="881.29" r="9.8" fill="none" stroke="#ee0000" stroke-width="2.4"/>
<circle cx="1451.34" cy="872.78" r="9.8" fill="none" stroke="#ee0000" stroke-width="2.4"/>
<circle cx="1457.63" cy="864.62" r="9.8" fill="none" stroke="#ee0000" stroke-width="2.4"/>
<circle cx="1464.1" cy="854.03" r="9.8" fill="none" stroke="#ee0000" stroke-width="2.4"/>
<circle cx="1468.09" cy="849.33" r="9.8" fill="none" stroke="#ee0000" stroke-width="2.4"/>
<circle cx="1474.49" cy="840.23" r="9.8" fill="none" stroke="#ee0000" stroke-width="2.4"/>
<circle cx="1479.69" cy="831.46" r="9.8" fill="none" stroke="#ee0000" stroke-width="2.4"/>
<circle cx="1483.83" cy="826.12" r="9.8" fill="none" stroke="#ee0000" stroke-width="2.4"/>
<circle cx="1489.05" cy="815.2" r="9.8" fill="none" stroke="#ee0000" stroke-width="2.4"/>
<circle cx="1492.74" cy="813.21" r="9.8" fill="none" stroke="#ee0000" stroke-width="2.4"/>
<circle cx="1499.21" cy="799.14" r="9.8" fill="none" stroke="#ee0000" stroke-width="2.4"/>
<circle cx="1505.11" cy="792.44" r="9.8" fill="none" stroke="#ee0000" stroke-width="2.4"/>
<circle cx="1509.06" cy="785.95" r="9.8" fill="none" stroke="#ee0000" stroke-width="2.4"/>
<circle cx="1514.87" cy="780.92" r="9.8" fill="none" stroke="#ee0000" stroke-width="2.4"/>
<circle cx="1518.5" cy="774.06" r="9.8" fill="none" stroke="#ee0000" stroke-width="2.4"/>
<circle cx="1522.13" cy="769.36" r="9.8" fill="none" stroke="#ee0000" stroke-width="2.4"/>
<circle cx="1526.63" cy="763.75" r="9.8" fill="none" stroke="#ee0000" stroke-width="2.4"/>
<circle cx="1533.07" cy="752.07" r="9.8" fill="none" stroke="#ee0000" stroke-width="2.4"/>
<circle cx="1527.4" cy="759.8" r="9.8" fill="none" stroke="#ee0000" stroke-width="2.4"/>
<circle cx="1532.8" cy="751.3" r="9.8" fill="none" stroke="#ee0000" stroke-width="2.4"/>
<circle cx="1539" cy="742" r="9.8" fill="none" stroke="#ee0000" stroke-width="2.4"/>
<circle cx="1541.7" cy="731.8" r="9.8" fill="none" stroke="#ee0000" stroke-width="2.4"/>
<line x1="1199.3" y1="1149.6" x2="1225.4" y2="1149.6" stroke="#000" stroke-width="3.6" />
<line x1="1243.3" y1="1149.1" x2="1259.6" y2="1149.1" stroke="#000" stroke-width="3.6" />
<path d="M1259.6,1149.1 L1265.4,1142.6" stroke="#000" stroke-width="3.6" fill="none"/>
<line x1="1275.1" y1="1128" x2="1535.1" y2="747.4" stroke="#000" stroke-width="3.6" stroke-dasharray="26 17.6"/>
<polygon points="1303.7,1065.2 1319.1,1084.8 1303.7,1106.8 1288.2,1084.8" fill="#22ee22"/>
</svg>
</body></html>
